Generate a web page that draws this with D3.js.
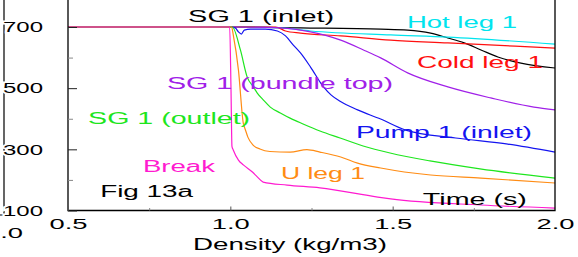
<!DOCTYPE html>
<html>
<head>
<meta charset="utf-8">
<script src="https://cdn.jsdelivr.net/npm/d3@7"></script>
<style>
body { margin: 0; background: #fff; overflow: hidden; }
svg { display: block; font-family: "Liberation Sans", Arial, sans-serif; }
</style>
</head>
<body>
<svg id="chart" width="578" height="257"></svg>
<script>
// x = time (s), y = density (kg/m3)
var sgInlet = [[0.5,700],[1.0,700],[1.216,697],[1.463,693],[1.546,690],[1.617,680],[1.67,664],[1.72,648],[1.772,625],[1.824,602],[1.895,582],[2.0,566]];
var hotLeg = [[0.5,700],[1.0,700],[1.154,697],[1.247,687],[1.494,674],[1.67,667],[2.0,644]];
var coldLeg = [[0.5,700],[1.139,700],[1.17,687],[1.216,680],[1.34,671],[1.494,657],[1.67,648],[2.0,631]];
var bundleTop = [[0.5,700],[1.0,700],[1.154,697],[1.247,684],[1.34,657],[1.41,625],[1.463,599],[1.546,550],[1.67,504],[1.802,468],[1.935,438],[2.0,429]];
var pumpInlet = [[0.5,700],[1.0,700],[1.015,697],[1.025,684],[1.034,677],[1.043,690],[1.062,693],[1.108,693],[1.145,687],[1.17,671],[1.194,641],[1.216,615],[1.247,569],[1.287,504],[1.31,478],[1.338,457],[1.392,429],[1.463,399],[1.54,363],[1.694,337],[1.855,317],[2.0,291]];
var sgOutlet = [[0.5,700],[1.0,700],[1.006,700],[1.031,625],[1.052,536],[1.071,504],[1.083,484],[1.102,461],[1.123,438],[1.154,419],[1.184,402],[1.224,383],[1.276,360],[1.338,337],[1.409,311],[1.492,288],[1.615,262],[1.769,236],[2.0,206]];
var uLeg = [[0.5,700],[1.0,700],[1.004,700],[1.009,674],[1.025,559],[1.04,385],[1.046,365],[1.054,340],[1.07,314],[1.091,301],[1.122,293],[1.184,291],[1.236,299],[1.276,291],[1.34,275],[1.392,255],[1.463,239],[1.617,216],[1.772,206],[2.0,190]];
var breakFlow = [[0.5,700],[0.998,700],[1.002,500],[1.005,310],[1.009,298],[1.025,265],[1.04,249],[1.068,226],[1.083,210],[1.101,193],[1.175,183],[1.276,174],[1.454,144],[1.494,138],[1.772,118],[2.0,108]];

var xTicks = [0.5, 1.0, 1.5, 2.0];
var xMinor = [0.75, 1.25, 1.75];
var yTicks = [100, 300, 500, 700];
var yMinor = [200, 400, 600];

// drawing order, last one ends up on top
var series = [
	{ name: "SG 1 (inlet)", values: sgInlet, color: "#000000" },
	{ name: "Hot leg 1", values: hotLeg, color: "#00e4ee" },
	{ name: "Cold leg 1", values: coldLeg, color: "#ff1010" },
	{ name: "SG 1 (bundle top)", values: bundleTop, color: "#a020e8" },
	{ name: "Pump 1 (inlet)", values: pumpInlet, color: "#1414f0" },
	{ name: "SG 1 (outlet)", values: sgOutlet, color: "#1ee61e" },
	{ name: "U leg 1", values: uLeg, color: "#ff8c14" },
	{ name: "Break", values: breakFlow, color: "#ff1ad0" }
];

// label placement in data units (left edge, baseline) and stretched width
var labels = [
	{ text: "SG 1 (inlet)", t: 0.87, v: 716, w: 146 },
	{ text: "Hot leg 1", t: 1.544, v: 697, w: 110 },
	{ text: "Cold leg 1", t: 1.575, v: 566, w: 126 },
	{ text: "SG 1 (bundle top)", t: 0.805, v: 497, w: 226 },
	{ text: "SG 1 (outlet)", t: 0.562, v: 383, w: 162 },
	{ text: "Pump 1 (inlet)", t: 1.387, v: 337, w: 176 },
	{ text: "Break", t: 0.731, v: 226, w: 72 },
	{ text: "U leg 1", t: 1.156, v: 203, w: 84 },
	{ text: "Fig 13a", t: 0.599, v: 144, w: 93, color: "#000" },
	{ text: "Time (s)", t: 1.593, v: 118, w: 104, color: "#000" }
];

var svg = d3.select("#chart");

var x = d3.scaleLinear().domain([0.5, 2.0]).range([68, 555]);
var y = d3.scaleLinear().domain([100, 700]).range([210.5, 27]);

// edge of the neighbouring panel that got cut off
svg.append("path")
	.attr("d", "M4,0V215H0")
	.attr("fill", "none")
	.attr("stroke", "#000")
	.attr("stroke-width", 1.2);
svg.append("text")
	.attr("x", 23).attr("y", 238)
	.attr("text-anchor", "end")
	.attr("font-size", 15)
	.attr("textLength", 38)
	.attr("lengthAdjust", "spacingAndGlyphs")
	.text("2.0");

// lines
var line = d3.line()
	.x(function(d) { return x(d[0]); })
	.y(function(d) { return y(d[1]); })
	.curve(d3.curveMonotoneX);

svg.append("g").selectAll("path")
	.data(series)
	.join("path")
	.attr("d", function(s) { return line(s.values); })
	.attr("fill", "none")
	.attr("stroke", function(s) { return s.color; })
	.attr("stroke-width", 1.2);

// frame (plot top is outside the picture)
svg.append("path")
	.attr("d", "M" + x(0.5) + ",0V" + y(100) + "H" + x(2.0) + "V0")
	.attr("fill", "none")
	.attr("stroke", "#000")
	.attr("stroke-width", 1.3);

// y axis
var gy = svg.append("g")
	.attr("transform", "translate(" + x(0.5) + ",0)")
	.call(d3.axisLeft(y).tickValues(yTicks).tickSize(-9).tickPadding(25).tickFormat(d3.format("d")));
var gyMinor = svg.append("g")
	.attr("transform", "translate(" + x(0.5) + ",0)")
	.call(d3.axisLeft(y).tickValues(yMinor).tickSize(-5).tickFormat(""));

// x axis
var gx = svg.append("g")
	.attr("transform", "translate(0," + y(100) + ")")
	.call(d3.axisBottom(x).tickValues(xTicks).tickSize(-4).tickPadding(8).tickFormat(d3.format(".1f")));
var gxMinor = svg.append("g")
	.attr("transform", "translate(0," + y(100) + ")")
	.call(d3.axisBottom(x).tickValues(xMinor).tickSize(-2.5).tickFormat(""));

[gy, gyMinor, gx, gxMinor].forEach(function(g) {
	g.attr("font-family", null).attr("font-size", null);
	g.select(".domain").remove();
});
gy.selectAll(".tick line").attr("stroke", "#222");
gx.selectAll(".tick line").attr("stroke", "#555");
gyMinor.selectAll(".tick line").attr("stroke", "#888");
gxMinor.selectAll(".tick line").attr("stroke", "#888");

gy.selectAll("text")
	.attr("font-size", 15)
	.attr("fill", "#000")
	.attr("textLength", 40)
	.attr("lengthAdjust", "spacingAndGlyphs")
	.attr("stroke", "#fff")
	.attr("stroke-width", 3)
	.attr("paint-order", "stroke");
gx.selectAll("text")
	.attr("font-size", 15)
	.attr("fill", "#000")
	.attr("textLength", 38)
	.attr("lengthAdjust", "spacingAndGlyphs");

svg.append("text")
	.attr("x", 193).attr("y", 250)
	.attr("font-size", 16)
	.attr("textLength", 194)
	.attr("lengthAdjust", "spacingAndGlyphs")
	.text("Density (kg/m3)");

// series labels
var colorOf = {};
series.forEach(function(s) { colorOf[s.name] = s.color; });

svg.append("g").selectAll("text")
	.data(labels)
	.join("text")
	.attr("x", function(d) { return x(d.t); })
	.attr("y", function(d) { return y(d.v); })
	.attr("font-size", 16)
	.attr("fill", function(d) { return d.color || colorOf[d.text]; })
	.attr("textLength", function(d) { return d.w; })
	.attr("lengthAdjust", "spacingAndGlyphs")
	.text(function(d) { return d.text; });
</script>
</body>
</html>
